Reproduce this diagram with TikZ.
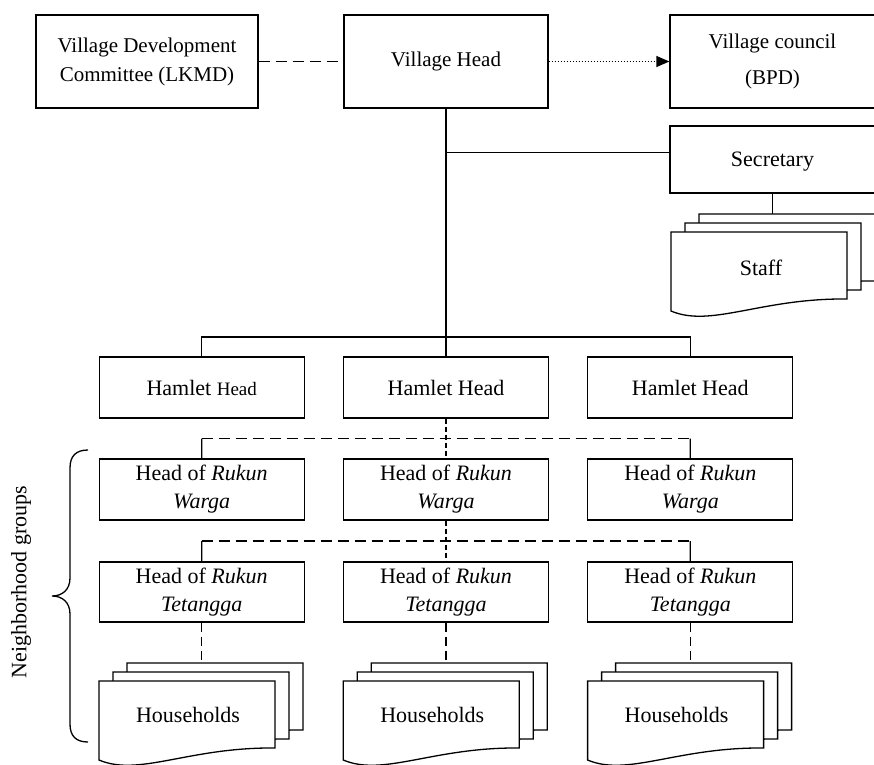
\documentclass[tikz,border=0pt]{standalone}
\usepackage{fontspec}
\setmainfont{Liberation Serif}
\usetikzlibrary{arrows.meta,calc}

\tikzset{
  base/.style={line width=1.3pt},
  orgbox/.style={base, draw, fill=white, inner sep=0pt, align=center,
    font=\fontsize{22}{28}\selectfont},
  topbox/.style={orgbox, minimum height=93pt, font=\fontsize{21}{29}\selectfont},
  unitbox/.style={orgbox, minimum width=205pt, minimum height=61pt},
  longdash/.style={base, dash pattern=on 11pt off 6pt},
  shortdash/.style={base, dash pattern=on 5pt off 3pt},
  docdash/.style={base, dash pattern=on 9pt off 5pt},
  pics/docpage/.style={code={
    \filldraw[base, fill=white] (0,0) -- (176,0) -- (176,67)
      .. controls (90,66) and (40,96) .. (0,79) -- cycle;
  }},
  doclabel/.style={font=\fontsize{22}{28}\selectfont, inner sep=0pt}
}

\begin{document}
\begin{tikzpicture}[x=1pt, y=-1pt]
  \useasboundingbox (0,0) rectangle (874,764);
  \clip (0,0) rectangle (874,764);

  % top row
  \node[topbox, minimum width=222pt] (lkmd) at (147,61.5)
    {Village Development\\Committee (LKMD)};
  \node[topbox, minimum width=204pt] (vh) at (446,61.5) {Village Head};
  \node[topbox, minimum width=205pt, font=\fontsize{21}{36}\selectfont] (vc) at (772.5,61.5)
    {Village council\\(BPD)};

  \draw[longdash] (lkmd.east) -- (vh.west);
  \draw[base, dash pattern=on 1.5pt off 1.5pt,
        -{Triangle[length=13pt, width=11pt]}] (vh.east) -- (vc.west);

  % secretary and staff
  \node[orgbox, minimum width=205pt, minimum height=67pt] (sec) at (772.5,159.5) {};
  \node[font=\fontsize{22}{28}\selectfont, inner sep=0pt] (sectext) at (772.5,162) {Secretary};
  \coordinate (secjoin) at ($(sec.north west)!0.4!(sec.south west)$);

  \pic at (699,214) {docpage};
  \pic at (685,223) {docpage};
  \pic at (671,232) {docpage};
  \coordinate (stafftop) at (699,214);
  \node[doclabel] (staff) at (761,268) {Staff};
  \draw[base] (sec.south) -- (sec.south |- stafftop);

  % hamlet level
  \node[unitbox] (h1) at (201.7,387.5) {Hamlet {\fontsize{19}{24}\selectfont Head}};
  \node[unitbox] (h2) at (446,387.5) {Hamlet Head};
  \node[unitbox] (h3) at (690.3,387.5) {Hamlet Head};

  \coordinate (hbus) at (446,337);
  \draw[base] (vh.south) -- (hbus);
  \draw[base] (vh.south |- secjoin) -- (secjoin);
  \draw[base] (h1.north) |- (hbus) -| (h3.north);
  \draw[base] (hbus) -- (h2.north);

  % rukun warga level
  \node[unitbox] (rw1) at (201.7,489.5) {Head of \textit{Rukun}\\\textit{Warga}};
  \node[unitbox] (rw2) at (446,489.5) {Head of \textit{Rukun}\\\textit{Warga}};
  \node[unitbox] (rw3) at (690.3,489.5) {Head of \textit{Rukun}\\\textit{Warga}};

  \coordinate (rwL) at ($(h1.south)!0.5!(rw1.north)$);
  \coordinate (rwR) at ($(h3.south)!0.5!(rw3.north)$);
  \draw[base] (rw1.north) -- (rwL);
  \draw[longdash] (rwL) -- (rwR);
  \draw[base] (rwR) -- (rw3.north);
  \draw[shortdash] (h2.south) -- (rw2.north);

  % rukun tetangga level
  \node[unitbox, minimum height=60pt] (rt1) at (201.7,592) {Head of \textit{Rukun}\\\textit{Tetangga}};
  \node[unitbox, minimum height=60pt] (rt2) at (446,592) {Head of \textit{Rukun}\\\textit{Tetangga}};
  \node[unitbox, minimum height=60pt] (rt3) at (690.3,592) {Head of \textit{Rukun}\\\textit{Tetangga}};

  \coordinate (rtL) at ($(rw1.south)!0.5!(rt1.north)$);
  \coordinate (rtR) at ($(rw3.south)!0.5!(rt3.north)$);
  \draw[base] (rt1.north) -- (rtL);
  \draw[longdash] (rtL) -- (rtR);
  \draw[base] (rtR) -- (rt3.north);
  \draw[shortdash] (rw2.south) -- (rt2.north);

  % households
  \foreach \i/\cx in {1/201.7, 2/446, 3/690.3} {
    \pic at (\cx-102.7+28,663) {docpage};
    \pic at (\cx-102.7+14,672) {docpage};
    \pic at (\cx-102.7,681) {docpage};
    \coordinate (hhtop\i) at (\cx,663);
    \node[doclabel] (hh\i) at (\cx-102.7+89,715) {Households};
  }
  \draw[docdash] (rt1.south) -- (hhtop1);
  \draw[docdash] (rt2.south) -- (hhtop2);
  \draw[docdash] (rt3.south) -- (hhtop3);

  % brace for the neighborhood groups
  \draw[base] (88,450) .. controls (76,450) and (70,456) .. (70,468)
    -- (70,578) .. controls (70,590) and (62,596) .. (52,596)
    .. controls (62,596) and (70,602) .. (70,614)
    -- (70,724) .. controls (70,736) and (76,742) .. (88,742);
  \node[rotate=90, font=\fontsize{22}{28}\selectfont, inner sep=0pt] (ngroups) at (21,582)
    {Neighborhood groups};
\end{tikzpicture}
\end{document}
